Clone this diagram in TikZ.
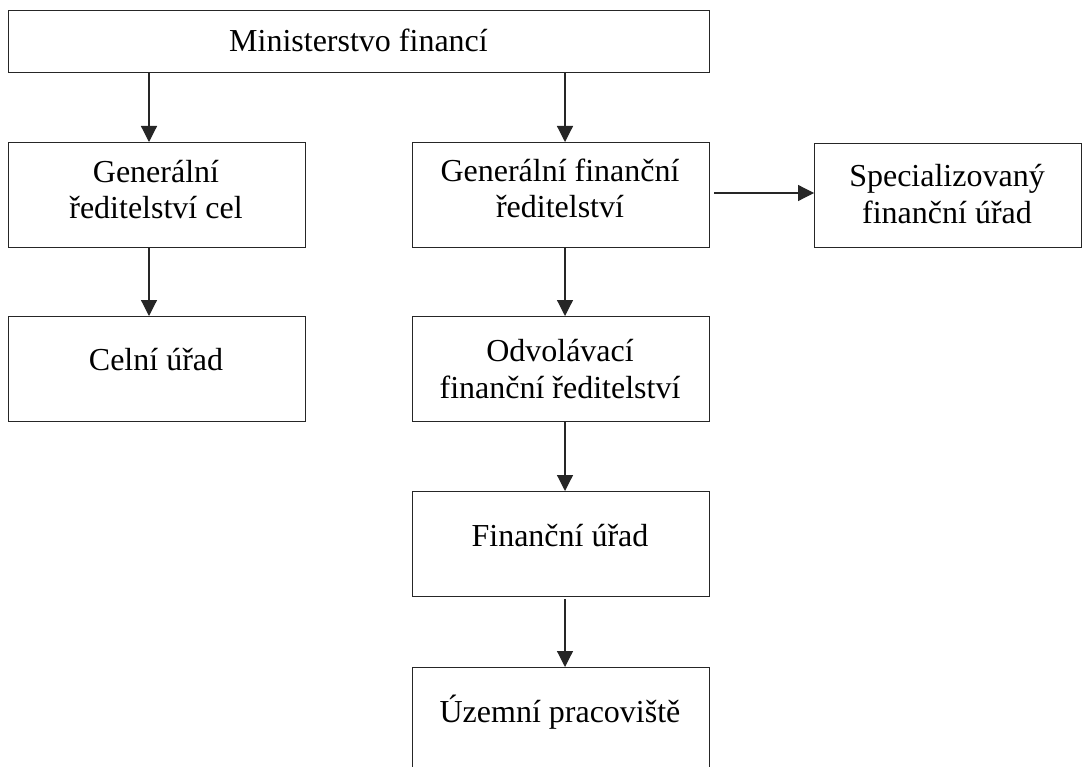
\documentclass[tikz,border=0pt]{standalone}
\usepackage{fontspec}
\setmainfont{Liberation Serif}
\usetikzlibrary{arrows.meta}
\tikzset{
  box/.style={draw=black!85, line width=1.2pt, rectangle, inner sep=0pt, fill=none},
  lbl/.style={inner sep=0pt, anchor=base, align=center, font=\fontsize{32}{37}\selectfont},
  conn/.style={draw=black!85, line width=1.2pt, -{Triangle[length=16pt,width=16pt]}}
}
\newcommand{\mkbox}[5]{% name, left, top, right, bottom
  \node[box, minimum width={#4-#2}, minimum height={#5-#3}, anchor=north west] (#1) at (#2,#3) {};}
\begin{document}
\begin{tikzpicture}[x=1pt,y=-1pt]
\useasboundingbox[fill=white] (0,0) rectangle (1083,767);
\clip (0,0) rectangle (1083,767);
\mkbox{mf}{8}{10}{709}{72}
\mkbox{gcel}{8}{142}{305}{247}
\mkbox{gfr}{412}{142}{709}{247}
\mkbox{sfu}{814}{143}{1081}{247}
\mkbox{cu}{8}{316}{305}{421}
\mkbox{ofr}{412}{316}{709}{421}
\mkbox{fu}{412}{491}{709}{596}
\mkbox{up}{412}{667}{709}{800}

\node[lbl] (tmf) at (358.5,52) {Ministerstvo financí};
\node[lbl] (tgcel1) at (156,183) {Generální};
\node[lbl] (tgcel2) at (156,219) {ředitelství cel};
\node[lbl] (tgfr1) at (560,182) {Generální finanční};
\node[lbl] (tgfr2) at (560,218) {ředitelství};
\node[lbl] (tsfu1) at (947,187) {Specializovaný};
\node[lbl] (tsfu2) at (947,224) {finanční úřad};
\node[lbl] (tcu) at (156,370) {Celní úřad};
\node[lbl] (tofr1) at (560,361) {Odvolávací};
\node[lbl] (tofr2) at (560,398) {finanční ředitelství};
\node[lbl] (tfu) at (560,546) {Finanční úřad};
\node[lbl] (tup) at (560,722) {Územní pracoviště};

\draw[conn] (mf.south -| 149,0) -- (gcel.north -| 149,0);
\draw[conn] (mf.south -| 565,0) -- (gfr.north -| 565,0);
\draw[conn] (gcel.south -| 149,0) -- (cu.north -| 149,0);
\draw[conn] (gfr.south -| 565,0) -- (ofr.north -| 565,0);
\draw[conn] (ofr.south -| 565,0) -- (fu.north -| 565,0);
\draw[conn] ([yshift=-2pt]fu.south -| 565,0) -- (up.north -| 565,0);
\draw[conn] ([xshift=4pt]gfr.east |- 0,193) -- (sfu.west |- 0,193);
\end{tikzpicture}
\end{document}
